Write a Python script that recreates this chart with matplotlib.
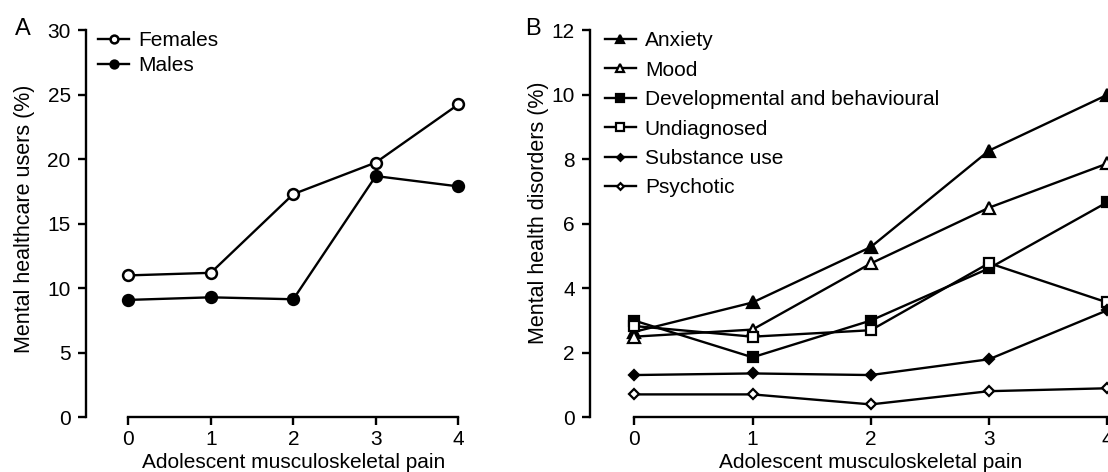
"""
Adolescent musculoskeletal pain vs mental healthcare use (A) and
mental health disorders (B).
"""

import matplotlib
matplotlib.use("Agg")
import matplotlib.pyplot as plt

plt.rcParams["font.family"] = ["Liberation Sans", "DejaVu Sans"]

# Pain score categories (x axis)
pain_levels = [0, 1, 2, 3, 4]

# Panel A: mental healthcare users (%)
females = [11.0, 11.2, 17.3, 19.75, 24.25]
males = [9.1, 9.3, 9.15, 18.7, 17.9]

# Panel B: mental health disorders (%)
anxiety = [2.65, 3.56, 5.28, 8.27, 10.0]
mood = [2.5, 2.72, 4.77, 6.5, 7.87]
developmental = [3.0, 1.86, 3.0, 4.62, 6.67]
undiagnosed = [2.83, 2.5, 2.7, 4.78, 3.56]
substance = [1.31, 1.36, 1.31, 1.8, 3.32]
psychotic = [0.71, 0.71, 0.4, 0.81, 0.9]

xlabel = "Adolescent musculoskeletal pain"

FS = 15
LW = 1.7


def style_axis(ax, ymax, ystep):
    for side in ("top", "right"):
        ax.spines[side].set_visible(False)
    for side in ("left", "bottom"):
        ax.spines[side].set_linewidth(LW)
    ax.spines["left"].set_bounds(0, ymax)
    ax.spines["bottom"].set_bounds(0, 4)
    ax.set_ylim(0, ymax)
    ax.set_yticks(range(0, ymax + 1, ystep))
    ax.set_xticks(pain_levels)
    ax.tick_params(axis="both", direction="out", length=6, width=LW,
                   labelsize=FS)
    ax.tick_params(axis="x", pad=3)
    ax.tick_params(axis="y", pad=5)
    ax.set_xlabel(xlabel, fontsize=FS, labelpad=3)
    # centre the x label under the middle pain level, as in the paper
    x_mid = ax.transAxes.inverted().transform(ax.transData.transform((2, 0)))[0]
    ax.xaxis.label.set_x(x_mid)


fig = plt.figure(figsize=(11.08, 4.72), dpi=100)

# ---- Panel A
axA = fig.add_axes([0.0776, 0.1159, 0.336, 0.8199])
line_kw = dict(color="black", lw=LW, clip_on=False)
axA.plot(pain_levels, females, marker="o", ms=7.8, mfc="white", mec="black",
         mew=1.8, label="Females", **line_kw)
axA.plot(pain_levels, males, marker="o", ms=7.8, mfc="black", mec="black",
         mew=1.8, label="Males", **line_kw)
axA.set_xlim(-0.513, 4.0)
style_axis(axA, 30, 5)
axA.set_ylabel("Mental healthcare users (%)", fontsize=15.5, labelpad=9)
axA.yaxis.label.set_y(0.512)
axA.legend(loc="upper left", bbox_to_anchor=(0.0, 1.029), frameon=False,
           fontsize=FS, handlelength=1.5, handletextpad=0.43,
           labelspacing=0.28, markerscale=0.72, borderaxespad=0.18)
fig.text(0.0207, 0.9386, "A", fontsize=17, ha="center", va="center")

# ---- Panel B
axB = fig.add_axes([0.5325, 0.1159, 0.4669, 0.8199])
series_b = [
    (anxiety, "^", "black", 8.3, "Anxiety"),
    (mood, "^", "white", 8.3, "Mood"),
    (developmental, "s", "black", 7.8, "Developmental and behavioural"),
    (undiagnosed, "s", "white", 7.8, "Undiagnosed"),
    (substance, "D", "black", 4.6, "Substance use"),
    (psychotic, "D", "white", 4.6, "Psychotic"),
]
for vals, mk, fc, ms, lab in series_b:
    axB.plot(pain_levels, vals, marker=mk, ms=ms, mfc=fc, mec="black",
             mew=1.6, label=lab, **line_kw)
axB.set_xlim(-0.374, 4.0)
style_axis(axB, 12, 2)
axB.set_ylabel("Mental health disorders (%)", fontsize=15.5, labelpad=2)
axB.yaxis.label.set_y(0.529)
axB.legend(loc="upper left", bbox_to_anchor=(0.0, 1.035), frameon=False,
           fontsize=FS, handlelength=1.5, handletextpad=0.43,
           labelspacing=0.5, markerscale=0.74, borderaxespad=0.3)
fig.text(0.4808, 0.9386, "B", fontsize=17, ha="center", va="center")

fig.savefig("out.png", dpi=100)
